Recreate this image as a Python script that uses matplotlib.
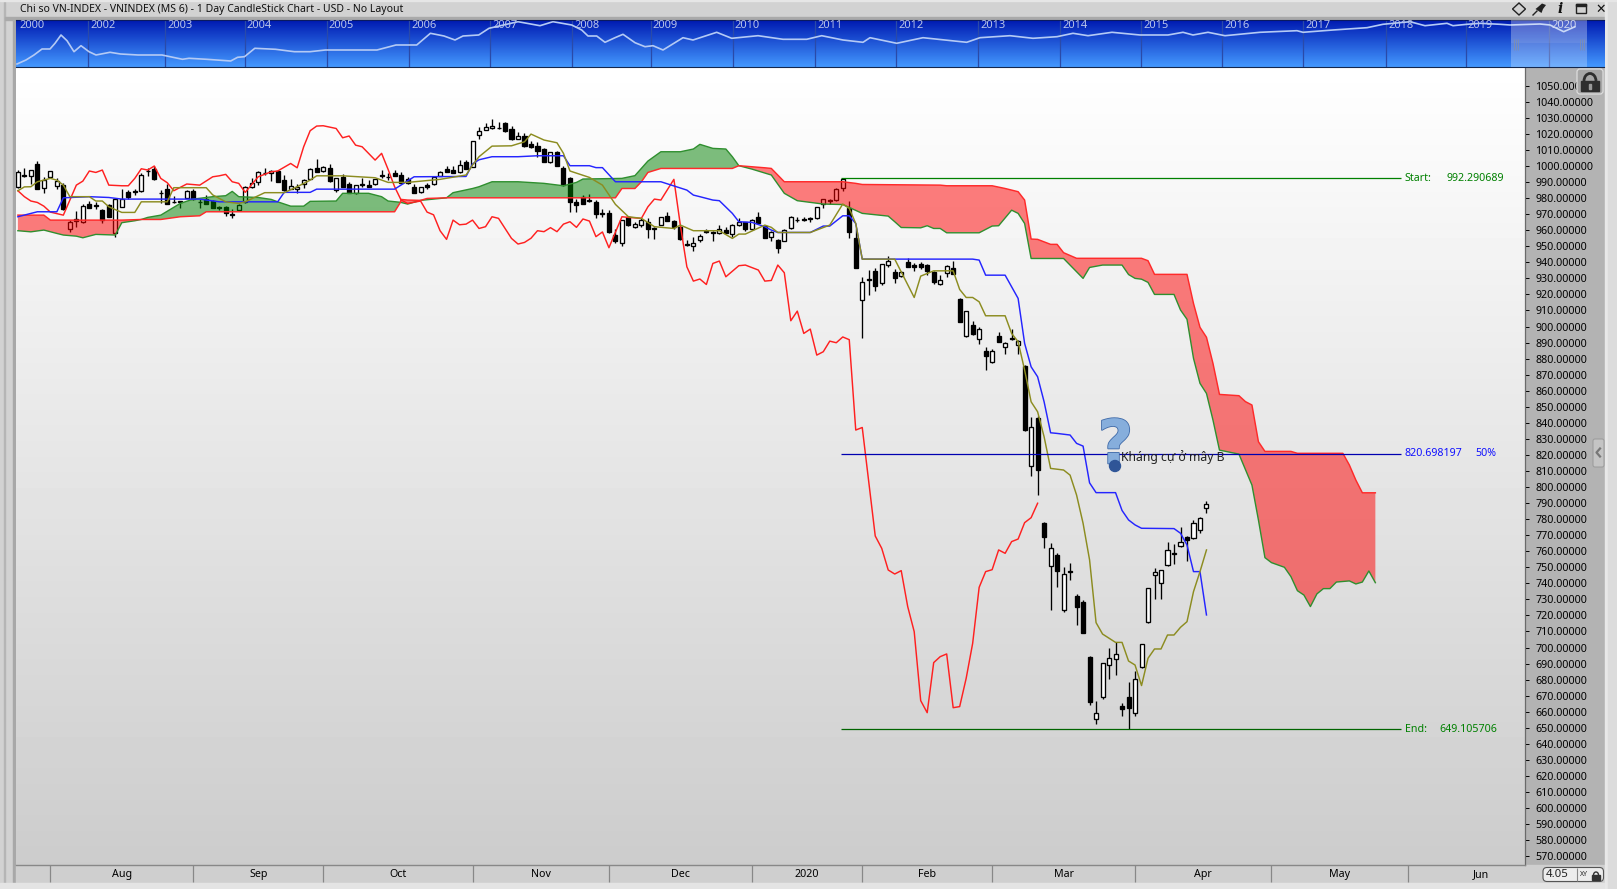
import numpy as np
import matplotlib
matplotlib.use("Agg")
import matplotlib.pyplot as plt
import matplotlib.patheffects as pe
from matplotlib.patches import Rectangle, FancyBboxPatch, Arc, Polygon, Ellipse

plt.rcParams["font.family"] = ["Noto Sans", "DejaVu Sans"]

# daily candles, one entry per trading day
opens = [986.7, 994.4, 993.9, 1001.2, 986.1, 993.3, 987.3, 988.1, 960.5, 966.7,
         965.3, 976.1, 975.7, 972.6, 975.7, 958, 974.6, 983.6, 984.6, 984.4,
         997.1, 998.3, 983.4, 985.4, 977.7, 978.4, 980, 984.2, 977.7, 979.6,
         978, 974.2, 974.2, 970.1, 972.4, 977.7, 987.1, 989.8, 995.8, 995.4,
         997.1, 991.1, 985.8, 985.8, 988.5, 992.1, 998.9, 997.1, 998.7, 985,
         993.1, 988.5, 983.4, 988.8, 988.1, 988.5, 994.4, 993.3, 995.6, 994.2,
         991.7, 987.1, 983.6, 987.9, 988.5, 993.9, 998.1, 997.3, 996.4, 1002.3,
         999.6, 1019.1, 1022.6, 1023.4, 1023.9, 1026.8, 1022.8, 1017, 1018.7, 1013.7,
         1012.4, 1010.4, 1002.5, 1008.7, 998.9, 992.5, 977.5, 980.5, 978.6, 977.5,
         970.5, 970.7, 956.8, 952.2, 968, 962.2, 963.4, 965.3, 960.5, 963.4,
         968.6, 965.5, 962.2, 951.4, 950.3, 953.7, 959.5, 958.9, 958.2, 959.9,
         957.4, 963, 964.9, 960.5, 968, 962.6, 955.5, 953.7, 953.5, 961.1,
         966.5, 967, 967.4, 967.4, 976.3, 978.6, 978.6, 986.5, 973.8, 954.9,
         916.3, 929.5, 934.3, 926.9, 938.5, 933.7, 931.2, 939.9, 938.1, 938.7,
         938.1, 933.9, 926.2, 933.5, 936.2, 917.1, 893.8, 900.9, 892, 884.5,
         878, 894.4, 887.4, 893, 888.8, 875.3, 813.2, 842.7, 777.6, 750.6,
         757.7, 723.6, 747.7, 731.9, 728.4, 694.1, 655.3, 669.4, 688.9, 692.7,
         663.6, 669.2, 659, 687.7, 716.1, 745, 740, 751.2, 758.7, 763.1,
         768.9, 768, 773, 786.7]
closes = [996.4, 993.5, 997.7, 985.8, 991.2, 997.1, 990.8, 973, 964.9, 965.9,
          975.3, 974, 975.3, 966.3, 968.4, 979.2, 979.4, 980.7, 984, 994.4,
          996.7, 992.1, 982.9, 976.5, 977.3, 977.7, 984.2, 979.2, 977.3, 976.5,
          974, 973.8, 970.5, 969.6, 975.9, 987.1, 989.6, 996.4, 995.4, 997.1,
          990.2, 985, 987.7, 987.1, 991.1, 997.9, 996.4, 999.6, 990.8, 992.3,
          987.1, 983.4, 987.9, 988.4, 987.1, 991.7, 993.5, 992.9, 993.9, 989.6,
          989.2, 983.4, 987.1, 987.1, 993.3, 996.4, 996.4, 995.8, 1000.8, 998.3,
          1015.4, 1022, 1024.3, 1024.7, 1023.4, 1021.8, 1016.6, 1018.4, 1012.4, 1011.8,
          1009.3, 1002.7, 1008.5, 1000.2, 987.9, 977.8, 975.9, 976.5, 978, 970,
          970, 958.8, 953.2, 966.1, 963, 963.6, 966.1, 960.5, 961.6, 968,
          965.9, 961.8, 954.3, 951, 952.2, 956.1, 959.1, 958.4, 960.9, 958.2,
          963.4, 964.9, 960.9, 966.5, 964.7, 955.3, 958.6, 948.7, 959.9, 968.4,
          966.1, 966.3, 967, 974.2, 979.2, 978, 985.9, 991.7, 959.1, 936.6,
          927.9, 929.1, 925.4, 938.7, 940.6, 930.4, 934.1, 937.2, 937.4, 937.2,
          934.7, 927.9, 928.7, 937.9, 932.9, 903, 909.4, 895.5, 898.2, 881.8,
          884.5, 890.5, 889.5, 892.4, 891.1, 835.3, 837.1, 810.7, 769.1, 761.8,
          747.9, 745.6, 747.3, 725.5, 709.3, 666.3, 659, 690.2, 693.7, 695.8,
          661.9, 662.5, 680.2, 702, 736.9, 746.9, 748.1, 760.6, 758.1, 765.6,
          767.2, 777.4, 780.5, 789.7]
highs = [997.5, 998.5, 997.7, 1002.9, 993.3, 997.1, 992.3, 989.2, 966.3, 972.1,
         976.1, 978.4, 977.7, 973, 976.3, 979.6, 985.4, 985, 985.6, 995.4,
         998.5, 1000, 985, 988.8, 981.3, 978.4, 985, 985.6, 979.4, 981.9,
         978.8, 975.3, 975.3, 973, 976.1, 987.5, 992.3, 996.9, 998.5, 997.5,
         997.5, 994.4, 991.7, 988.8, 991.7, 998.5, 1004.1, 1000, 1001.2, 992.7,
         994.8, 990.2, 988.1, 992.3, 991.2, 991.9, 997.5, 995.4, 997.5, 996.4,
         992.9, 988.5, 987.1, 989.4, 993.7, 996.9, 1000, 1000, 1003.7, 1003.7,
         1015.8, 1024.3, 1026.6, 1029, 1027.6, 1027.2, 1024.9, 1021.4, 1020.3, 1015.8,
         1015.1, 1011, 1008.9, 1009.1, 999.8, 993.3, 979.4, 981.7, 982.3, 978.8,
         973.2, 972.6, 960.5, 966.3, 968.8, 965.3, 967.4, 967.4, 962.2, 968.4,
         971.5, 966.3, 963.2, 953.9, 955.5, 957.4, 960.5, 959.7, 963, 962.2,
         963.8, 967.4, 965.3, 967, 971.1, 963, 959.7, 954.3, 960.5, 969,
         968.4, 968, 968, 974.6, 979.6, 979.6, 986.3, 992.1, 978.2, 961.1,
         930.6, 935.2, 936.2, 938.9, 943.9, 935.6, 934.7, 943, 939.3, 940.4,
         938.9, 934.7, 931.8, 938.1, 940.8, 917.7, 909.6, 903.4, 899.4, 887,
         886.3, 896.5, 890.3, 898.2, 891.5, 875.8, 843.4, 844.4, 778.2, 765,
         758.7, 750, 752.5, 733.4, 729.6, 694.5, 666.7, 690.4, 700, 703.2,
         665.2, 678.5, 685.4, 702.2, 737.3, 749.6, 748.3, 765.8, 764.5, 775.1,
         769.5, 779.5, 781.1, 791.1]
lows = [986.1, 993.3, 988.8, 985.6, 983.3, 992.3, 985.6, 972.6, 959.1, 961.7,
        964.7, 973.8, 973.2, 964.7, 968, 955.9, 974.2, 979.6, 981.9, 984,
        994, 991.2, 977.1, 976.3, 977.1, 974, 979.8, 978.8, 974, 976.3,
        973.6, 972.6, 968.8, 967.8, 972.1, 976.7, 986.1, 988.1, 994.4, 990.6,
        990, 984.6, 985.4, 983.3, 986.1, 991.7, 996.2, 996.2, 990.2, 984,
        986.9, 982.9, 982.5, 986.7, 986.9, 988.3, 992.3, 991.2, 993.7, 989.2,
        988.8, 982.9, 983.1, 985.8, 988.1, 993.7, 996.2, 995.4, 995.8, 998.1,
        999.1, 1016.6, 1022.2, 1023.2, 1023.2, 1021.4, 1016.4, 1016.6, 1011.8, 1011,
        1005.8, 1002.5, 1002.1, 1000, 987.7, 971.5, 971.5, 976.3, 977.8, 967.8,
        968.4, 958.4, 951.8, 950.3, 962.6, 961.5, 961.8, 955.3, 954.7, 963.2,
        965.7, 961, 953.9, 950.1, 947.2, 952.8, 958.4, 953.5, 957.6, 958,
        956, 962.6, 959.7, 960.3, 964.5, 955.1, 953.5, 946, 953, 960.7,
        965.1, 965.7, 965.1, 967.2, 974, 976.3, 978.4, 984.6, 954.9, 936.6,
        892.6, 919.8, 922.3, 925.6, 936.8, 927.3, 931, 937, 934.7, 935.6,
        932, 926.4, 926, 931, 932.7, 902.8, 893.6, 894.9, 889, 873,
        877.4, 890.3, 882.8, 891.5, 882.8, 835, 807, 795, 762.2, 723.4,
        737.9, 722.4, 742.1, 714.1, 709.1, 664.2, 652.6, 668.1, 680.4, 682.9,
        657.4, 649, 657.4, 687.5, 715.5, 730.3, 730.3, 751, 752.1, 762.9,
        754.1, 767.8, 771.6, 784]

# ichimoku lines, (bar, price) read at the line's corners
lag_bars = [0, 1, 2, 3, 4, 5, 7, 8, 9, 10, 11, 12, 13, 14, 16, 17, 18, 19, 20, 21, 22, 23, 24, 26, 28, 30, 31, 32, 33, 34,
            35, 36, 37, 39, 40, 42, 43, 44, 45, 46, 47, 49, 50, 51, 52, 53, 55, 56, 57, 58, 59, 60, 62, 63, 64, 65, 66, 67,
            68, 69, 70, 71, 72, 73, 74, 75, 76, 77, 78, 79, 80, 81, 82, 83, 84, 85, 86, 87, 88, 89, 90, 91, 93, 94, 96, 97,
            98, 99, 101, 102, 103, 104, 105, 106, 107, 108, 109, 111, 112, 114, 115, 116, 117, 118, 119, 120, 121, 122, 123,
            124, 125, 126, 127, 128, 129, 130, 132, 133, 134, 135, 136, 137, 138, 139, 140, 141, 142, 143, 144, 145, 146,
            147, 148, 149, 150, 151, 152, 153, 154, 155, 156, 157]
lag_vals = [984.6, 980.9, 978.2, 977.3, 975, 971.3, 969.4, 978.8, 988.1, 990.6, 996.9, 996, 997.5, 988.1, 987.7, 987.7,
            992.3, 998.3, 997.5, 1000, 992.3, 989.6, 984.6, 988.8, 988.1, 993.3, 993.9, 994.8, 990.2, 989.2, 983.6, 988.5,
            993.3, 996.4, 996.9, 1001.6, 998.9, 1012, 1022, 1024.9, 1025.1, 1023.4, 1017.6, 1018.7, 1013, 1012, 1003.7,
            1007.9, 997.9, 987.1, 978.8, 976.7, 978.2, 971.3, 969.6, 959.7, 954.3, 966.3, 963.4, 963.8, 966.3, 961.1, 962.2,
            968.4, 967.4, 961.1, 954.9, 951.4, 952.4, 955, 959.7, 959.1, 961.6, 959.1, 963.8, 965.3, 961.8, 967, 965.7, 956,
            958.9, 949.1, 968.4, 968, 967.4, 974.6, 979.4, 978.8, 991.7, 963, 937.2, 928.3, 929.6, 926.2, 939.3, 940.8, 931,
            937.9, 938.3, 935.2, 928.3, 928.7, 938.3, 933.5, 903.6, 909.6, 895.7, 898.4, 882.2, 884.3, 890.9, 889.9, 893.5,
            891.8, 835.5, 837.1, 769.5, 761.8, 748.3, 745.8, 747.9, 725.5, 709.9, 666.9, 659.4, 690.6, 694.3, 696, 662.5,
            663.2, 680.8, 702.6, 737.5, 747.3, 748.5, 760.8, 758.7, 766, 767.6, 777.8, 780.9, 789.9]
tenkan_bars = [0, 1, 2, 3, 5, 6, 7, 8, 11, 12, 13, 14, 16, 18, 19, 23, 24, 29, 30, 32, 34, 35, 38, 41, 43, 45, 46, 50, 55,
               57, 60, 65, 69, 70, 71, 73, 76, 78, 79, 81, 83, 84, 85, 88, 90, 92, 94, 96, 98, 101, 102, 104, 108, 110, 111,
               112, 115, 116, 117, 122, 125, 127, 128, 129, 130, 135, 138, 139, 141, 144, 145, 146, 147, 148, 149, 152, 153,
               154, 155, 156, 157, 158, 159, 161, 162, 163, 164, 165, 166, 167, 169, 170, 171, 172, 173, 174, 175, 176, 177,
               178, 179, 180, 181, 182, 183]
tenkan_vals = [984.6, 987, 987.1, 990.2, 992.3, 991.2, 988.1, 980.9, 980.9, 978.2, 978.2, 974.6, 971.1, 971.1, 977.7, 977.7,
               986.5, 986.5, 982, 977.7, 976.7, 977.7, 983.4, 983.4, 987.1, 991.2, 993.9, 993.9, 992.7, 989.8, 989.8, 991.7,
               994.4, 1000.6, 1005.8, 1012.4, 1012.6, 1015.1, 1019.9, 1016.2, 1014.5, 1007.9, 996.9, 992.9, 988.1, 976.1,
               968.4, 967.4, 962.2, 961.1, 963.2, 959.7, 959.7, 954.9, 957.6, 957.6, 963.2, 961.8, 958.6, 958.6, 963.2, 976.3,
               973.6, 964.2, 942, 942, 918.1, 931.4, 934.7, 934.7, 923.1, 918.1, 918.1, 915.4, 906.7, 906.7, 895.7, 890.5,
               872.9, 853.1, 846.9, 831.3, 811.6, 810.6, 807.4, 795, 777.4, 754.6, 715.5, 708.4, 703.2, 703.2, 691.6, 689.1,
               676.3, 693.3, 699.1, 699.1, 707.8, 707.8, 712.6, 716.1, 734.8, 747.3, 760.8]
kijun_bars = [0, 3, 6, 7, 11, 14, 16, 28, 31, 40, 41, 45, 46, 58, 61, 69, 70, 71, 73, 77, 80, 84, 85, 88, 89, 90, 92, 99, 103,
              104, 105, 107, 108, 110, 111, 113, 115, 116, 117, 122, 124, 125, 127, 128, 129, 130, 147, 148, 149, 152, 154,
              155, 156, 157, 158, 159, 160, 162, 163, 164, 165, 166, 169, 170, 171, 172, 173, 178, 179, 180, 181, 182, 183]
kijun_vals = [968.4, 971.5, 971.5, 980.2, 980.9, 980.4, 979.4, 979.4, 977.7, 977.7, 983.6, 983.6, 985.6, 985.6, 993.3, 993.5,
              1001.3, 1003.9, 1005.8, 1005.8, 1006.4, 1006.4, 1000.2, 1000.2, 999, 999, 990.2, 990.2, 985, 981.9, 980.9, 978.8,
              978.4, 970.5, 965.3, 964.9, 962.2, 960.1, 958.6, 958.6, 962.6, 962.6, 969, 969, 964.2, 942, 942, 941.4, 932, 932,
              917.5, 889.5, 874.9, 868.7, 853.1, 833.8, 833.4, 832.4, 827.2, 825.5, 802.6, 796.5, 796.5, 785.4, 779.5, 776.4,
              774.3, 774.1, 771.2, 763.9, 747.3, 747.3, 720.3]
span_a_bars = [0, 2, 4, 6, 7, 9, 10, 12, 15, 16, 18, 19, 20, 22, 25, 27, 30, 32, 33, 34, 37, 39, 40, 42, 44, 45, 49, 50, 54,
               56, 57, 58.9, 60, 62, 66, 67, 70, 71, 73, 77, 81, 84, 86, 87, 93, 95, 97, 99, 102, 104, 105, 107, 109, 110, 111,
               113, 116, 118, 120, 124, 127, 128, 130, 134, 135, 136, 139, 140, 141, 142, 143, 148, 150, 151, 153, 154, 155,
               156, 161, 164, 165, 167, 170, 171, 172, 173, 174, 175, 178, 179, 180, 181, 182, 183, 184, 185, 188, 190, 191,
               192, 193, 195, 196, 197, 198, 199, 200, 201, 202, 203, 205, 206, 207, 208, 209]
span_a_vals = [959.7, 959, 960.1, 958, 957, 956.3, 955.3, 957.4, 957, 964.7, 965.9, 966.7, 968, 969.4, 976.7, 979.4, 980.9,
               981.5, 984.2, 980.9, 980.4, 979.2, 977.7, 975, 975, 978, 978.2, 983, 983, 980.9, 978.2, 977.4, 976.3, 978.6,
               980.2, 983.4, 986, 987.1, 990.2, 990.2, 989.2, 987.7, 989.8, 991.9, 992.3, 994, 1003.1, 1008.9, 1008.9, 1010.6,
               1013.5, 1011, 1010.6, 1005.8, 1000.2, 998.1, 994.4, 983, 978.4, 976.3, 976, 974.2, 970.5, 968.8, 965.3, 961.7,
               961.5, 962.8, 961.1, 961.1, 958.4, 958.4, 962.6, 962.8, 972.5, 970.5, 964.2, 942.4, 942.4, 930, 936.8, 938.3,
               938.3, 932.4, 930, 929.5, 927.5, 920, 920, 910.3, 904.5, 880.2, 864.6, 858.3, 841.7, 823, 820.5, 801.2, 779.4,
               756, 752.9, 750, 744.2, 735.4, 732.7, 725.5, 733.4, 736.7, 736.7, 740.8, 741.5, 739.6, 740.8, 747.7, 740.4]
span_b_bars = [0, 4, 5, 16, 19, 22, 25, 28, 29, 58, 58.9, 59, 60, 62, 63, 66, 92, 93, 95, 96, 97, 99, 110, 111, 115, 116, 118,
               127, 129, 130, 142, 143, 150, 152, 154, 155, 156, 157, 159, 160, 161, 163, 173, 174, 175, 180, 181, 182, 183,
               184, 185, 188, 189, 190, 191, 192, 196, 197, 204, 205, 206, 207, 209]
span_b_vals = [969.4, 969.4, 966.3, 966.3, 966.7, 966.7, 968.4, 969, 971.5, 971.5, 977.4, 979.2, 978.8, 978.6, 979.8, 980.2,
               980.2, 986, 986, 990.2, 996, 998.5, 998.5, 1000.2, 998.9, 998.5, 990.2, 990.2, 989.2, 988.5, 988.1, 987.7, 987.7,
               986, 984, 978.8, 954.5, 954.3, 951.2, 951.2, 946, 942.5, 942.5, 941, 932.5, 932.5, 914.4, 899.5, 893.3, 877,
               857.7, 856.9, 853.2, 851.1, 828.2, 822.2, 822.2, 821, 821, 813.7, 804.3, 796.4, 796.4]

# cloud pieces between the span crossings: (first bar, last bar, colour)
cloud_pieces = [(0, 19, "#ff0000"), (19, 58.9, "#008000"), (58.9, 62, "#ff0000"),
                (62, 111, "#008000"), (111, 209, "#ff0000")]

# fibonacci retracement
fib_start = 992.290689
fib_mid = 820.698197
fib_end = 649.105706

# bottom axis
month_bars = [5, 27, 47, 70, 91, 113, 130, 150, 172, 193, 214, 236.6]
month_names = ["Aug", "Sep", "Oct", "Nov", "Dec", "2020", "Feb", "Mar", "Apr", "May", "Jun"]
price_ticks = list(range(570, 1060, 10))

# overview strip at the top
mini_years = ["2002", "2003", "2004", "2005", "2006", "2007", "2008", "2009", "2010", "2011",
              "2012", "2013", "2014", "2015", "2016", "2017", "2018", "2019", "2020"]
mini_year_pos = [88.2, 165.3, 244.8, 326.8, 409, 490, 572, 650.7, 732.7, 815, 896, 978,
                 1060, 1141, 1222, 1303, 1386, 1465.7, 1549]
mini_pos = [17, 26, 34, 42, 50, 55, 61, 67, 74, 81, 89, 96, 110, 120.5, 138, 162, 182.5, 189, 206.6, 230.7, 237.6, 244.5,
            254.8, 275.5, 294.4, 310, 325.4, 377, 396, 416.7, 430.4, 444, 455, 463, 478.7, 489, 518, 540, 553, 571.7, 581.7,
            588, 596.7, 605, 615, 623, 635, 645, 653, 663, 683, 693, 716.7, 731.7, 758, 783, 806.7, 821.7, 843, 863, 870,
            896.7, 923, 966.7, 980, 1010, 1033, 1057, 1073, 1088, 1112, 1140, 1168, 1183, 1193, 1208, 1225, 1260, 1297, 1303,
            1333, 1367, 1383, 1410, 1425, 1447, 1453, 1467, 1480, 1500, 1510, 1540, 1550, 1563.7, 1575]
mini_vals = [3, 7, 12, 18, 18, 23.7, 32, 26.3, 15.3, 21.3, 15.3, 12, 14.7, 13, 12, 12, 7.7, 8.7, 7.7, 6, 9.7, 10.3,
             18.7, 17.7, 15.3, 15.3, 17, 17, 22, 22, 33.7, 31, 27, 31, 32, 38.7, 45.3, 41.3, 45.3, 42, 37,
             31, 31, 24.7, 29.3, 32.7, 24.3, 20.3, 21.3, 17, 29.3, 27, 34.7, 28.7, 31.3, 27.7, 27.7, 31.3, 27, 24.7, 29.3,
             23.7, 29.3, 24.7, 29.3, 31.3, 28.7, 30.3, 33.7, 31.3, 34.7, 32, 32, 34.7, 32, 34.7, 31.3, 34.7, 36.3, 34.7,
             37, 39.3, 42.7, 45.3, 41.3, 43.7, 41.3, 42.7, 43.7, 42.7, 42, 43, 42, 35.3, 40.3]

W, H = 1617, 889
TXT = 7.7
fig = plt.figure(figsize=(W / 100, H / 100), dpi=100, facecolor="#d2d2d2")


def axes_px(x0, y0, x1, y1, **kw):
    return fig.add_axes([x0 / W, 1 - y1 / H, (x1 - x0) / W, (y1 - y0) / H], **kw)


# window frame behind everything
back = axes_px(0, 0, W, H, zorder=-1)
back.set_xlim(0, W)
back.set_ylim(H, 0)
back.axis("off")
back.add_patch(Rectangle((4, 0), 1.2, H, color="#b5b5b5"))
back.add_patch(Rectangle((13, 20), 3, 864, color="#a8a8a8"))
back.add_patch(Rectangle((5, 17), 1600, 3, color="#aaaaaa"))
back.add_patch(Rectangle((1525, 67), 80, 798, color="#b3b3b3"))
back.add_patch(Rectangle((16, 865), 1589, 18, color="#cfcfcf"))
back.add_patch(Rectangle((0, 883), W, 6, color="#e4e4e4"))
back.add_patch(Rectangle((1605, 0), 3, H, color="#e8e8e8"))
back.add_patch(Rectangle((1608, 0), 9, H, color="#dcdcdc"))
back.add_patch(Rectangle((0, 0), W, 1, color="#e6e6e6"))
back.text(19.5, 9.5, "Chi so VN-INDEX - VNINDEX (MS 6) - 1 Day CandleStick Chart - USD - No Layout",
          fontsize=7.5, va="center", ha="left", color="#111111")

# main price panel
ax = axes_px(16, 67, 1525, 865)
ax.imshow(np.linspace(255, 204, 256).reshape(-1, 1), cmap="gray", vmin=0, vmax=255,
          extent=[-0.29, 232.04, 564.5, 1061.7], aspect="auto", zorder=0)

bars = np.arange(len(opens))
o = np.array(opens)
c = np.array(closes)
ax.vlines(bars, lows, highs, color="black", lw=0.95, zorder=2)
up = c >= o
ax.bar(bars[up], (c - o)[up], bottom=o[up], width=0.62, facecolor="white", edgecolor="black", lw=0.95, zorder=2.1)
ax.bar(bars[~up], (o - c)[~up], bottom=c[~up], width=0.62, facecolor="black", edgecolor="black", lw=0.95, zorder=2.1)

a_x = np.array(span_a_bars)
a_y = np.array(span_a_vals)
b_x = np.array(span_b_bars)
b_y = np.array(span_b_vals)
for first, last, col in cloud_pieces:
    ma = (a_x >= first) & (a_x <= last)
    mb = (b_x >= first) & (b_x <= last)
    ax.fill(np.r_[a_x[ma], b_x[mb][::-1]], np.r_[a_y[ma], b_y[mb][::-1]], color=col, alpha=0.5, lw=0, zorder=3)
ax.plot(span_a_bars, span_a_vals, color="#2f8f2f", lw=1.0, zorder=3.2)
ax.plot(span_b_bars, span_b_vals, color="#ff2a2a", lw=1.05, zorder=3.3)

ax.plot(lag_bars, lag_vals, color="#ff2020", lw=1.05, zorder=4)
ax.plot(kijun_bars, kijun_vals, color="#2525ff", lw=1.05, zorder=4)
ax.plot(tenkan_bars, tenkan_vals, color="#8c8c20", lw=1.05, zorder=4)

ax.hlines(fib_start, 126.8, 212.9, color="#008000", lw=0.9, zorder=5)
ax.hlines(fib_mid, 126.8, 212.9, color="#0000b0", lw=0.9, zorder=5)
ax.hlines(fib_end, 126.8, 212.9, color="#006400", lw=0.9, zorder=5)
ax.text(213.5, fib_start, "Start:", color="#008000", fontsize=TXT, va="center")
ax.text(219.9, fib_start, f"{fib_start:.6f}", color="#008000", fontsize=TXT, va="center")
ax.text(213.5, fib_mid, f"{fib_mid:.6f}", color="#1010ff", fontsize=TXT, va="center")
ax.text(224.4, fib_mid, "50%", color="#1010ff", fontsize=TXT, va="center")
ax.text(213.5, fib_end, "End:", color="#008000", fontsize=TXT, va="center")
ax.text(218.8, fib_end, f"{fib_end:.6f}", color="#008000", fontsize=TXT, va="center")
ax.text(169.9, 819, "Kháng cự ở mây B", color="#222222", fontsize=8.8, va="center", ha="left", zorder=6)

ax.set_xlim(-0.29, 232.04)
ax.set_ylim(564.5, 1061.7)
ax.yaxis.tick_right()
ax.set_yticks(price_ticks)
ax.set_yticklabels([f"{v:.5f}" for v in price_ticks], fontsize=TXT, color="black")
ax.set_yticks(range(600, 1001, 100), minor=True)
ax.tick_params(axis="y", which="major", length=3, width=0.7, pad=4.4, color="black")
ax.tick_params(axis="y", which="minor", length=6, width=0.7, color="black")
ax.set_xticks(month_bars[:-1])
ax.set_xticklabels([])
ax.set_xticks([(month_bars[i] + month_bars[i + 1]) / 2 for i in range(len(month_names))], minor=True)
ax.set_xticklabels(month_names, minor=True, fontsize=TXT, color="black")
ax.tick_params(axis="x", which="major", length=12.2, width=0.9, color="#888888")
ax.tick_params(axis="x", which="minor", length=0, pad=2.6)
for side in ["left", "top"]:
    ax.spines[side].set_visible(False)
ax.spines["right"].set_color("#6a6a6a")
ax.spines["bottom"].set_color("#888888")
ax.spines["right"].set_linewidth(0.9)
ax.spines["bottom"].set_linewidth(1.0)

# overview strip
mini = axes_px(16, 20, 1604, 67)
grad = np.linspace(0, 1, 64).reshape(-1, 1, 1) * np.array([[[68, 127, 77]]]) + np.array([[[0, 26, 178]]])
mini.imshow(grad.astype(np.uint8), extent=[16, 1604, 0, 47], aspect="auto", zorder=0)
mini.vlines(mini_year_pos, 0, 47, color="#2a4aa8", lw=0.9, zorder=1)
mini.plot(mini_pos, mini_vals, color="#b4caf5", lw=1.2, zorder=2)
mini.text(19.6, 41.5, "2000", color="#b9c4e8", fontsize=TXT + 0.3, va="center")
for pos, yr in zip(mini_year_pos, mini_years):
    mini.text(pos + 2, 41.5, yr, color="#b9c4e8", fontsize=TXT + 0.3, va="center")
mini.add_patch(Rectangle((1511, 0), 76, 47, color="white", alpha=0.25, lw=0, zorder=3))
mini.add_patch(Rectangle((1511, 24), 76, 23, color="white", alpha=0.08, lw=0, zorder=3))
for gx in [1514, 1516, 1518, 1580, 1582, 1584]:
    mini.vlines(gx, 17, 28, color="#7f8fb0", lw=0.6, zorder=4)
mini.set_xlim(16, 1604)
mini.set_ylim(0, 47)
mini.set_xticks([])
mini.set_yticks([])
for sp in mini.spines.values():
    sp.set_visible(False)
mini.spines["top"].set_visible(True)
mini.spines["top"].set_color("#0a1a60")
mini.spines["bottom"].set_visible(True)
mini.spines["bottom"].set_color("#14284e")

# small window furniture on top
over = axes_px(0, 0, W, H, zorder=10)
over.set_xlim(0, W)
over.set_ylim(H, 0)
over.axis("off")
over.patch.set_alpha(0)

# lock button
over.add_patch(FancyBboxPatch((1577, 69), 26, 25, boxstyle="round,pad=0,rounding_size=3", fc="#a6a6a6", ec="#dddddd", lw=0.9))
over.add_patch(Rectangle((1581, 81), 18, 10, color="#2e2e2e"))
over.add_patch(Arc((1590, 81), 12, 15, theta1=180, theta2=360, color="#2e2e2e", lw=2))
over.add_patch(Rectangle((1589, 84), 2, 5, color="#9a9a9a"))

# title bar icons
over.add_patch(Polygon([(1519, 3), (1525.5, 9), (1519, 15), (1512.5, 9)], closed=True, fc="none", ec="#222222", lw=1))
over.add_patch(Polygon([(1538, 7), (1542, 3.5), (1546, 5), (1543, 9), (1541.5, 13), (1535.5, 9)], closed=True, fc="#222222", ec="none"))
over.plot([1537, 1533], [11, 15], color="#222222", lw=1)
over.text(1560, 9, "i", fontsize=10, ha="center", va="center", color="#111111", style="italic", weight="bold", family="DejaVu Serif")
over.add_patch(Rectangle((1576, 4), 10, 9, fc="none", ec="#222222", lw=1))
over.add_patch(Rectangle((1576, 4), 10, 2, color="#222222"))
over.text(1601, 9, "\u2715", fontsize=9, ha="center", va="center", color="#111111", weight="bold", family="DejaVu Sans")

# zoom box bottom right
over.add_patch(FancyBboxPatch((1543, 867.5), 60.5, 14, boxstyle="round,pad=0,rounding_size=4", fc="#ececec", ec="#555555", lw=0.8))
over.vlines(1577, 868, 881, color="#888888", lw=0.8)
over.text(1546, 874.7, "4.05", fontsize=8.2, va="center", ha="left", color="#222222")
over.text(1580, 875, "XY", fontsize=5, va="center", ha="left", color="#222222")
over.add_patch(Rectangle((1592, 875), 8, 5, color="#333333"))
over.add_patch(Arc((1596, 875), 5, 6, theta1=180, theta2=360, color="#333333", lw=1))

# panel handle on the price axis
over.add_patch(FancyBboxPatch((1593, 439), 11, 28, boxstyle="round,pad=0,rounding_size=2", fc="#c4c4c4", ec="#9a9a9a", lw=0.7))
over.plot([1600, 1596.5, 1600], [448.5, 452.5, 456.5], color="#777777", lw=1.6)

# question mark
over.text(1115.5, 447, "?", fontsize=44, ha="center", va="center", color="#86aedc", weight="bold",
          family="DejaVu Sans", zorder=7,
          path_effects=[pe.withStroke(linewidth=1.2, foreground="#3f6aa8")])
over.add_patch(Ellipse((1115, 466), 11, 11, color="#2f5597", zorder=8))

fig.savefig("out.png", dpi=100, facecolor=fig.get_facecolor())
